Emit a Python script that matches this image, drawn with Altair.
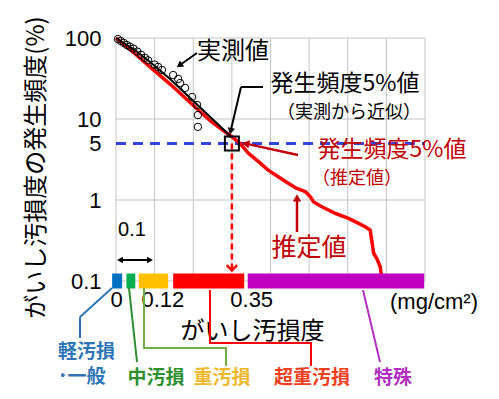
import altair as alt
import pandas as pd

# ---------------- data ----------------
# measured values (実測値) : open circles
meas_x = [0.005, 0.012, 0.020, 0.028, 0.036, 0.045, 0.055, 0.065, 0.075, 0.083,
          0.100, 0.109, 0.119, 0.148, 0.161, 0.166, 0.179, 0.197, 0.210, 0.212, 0.212]
meas_y = [97, 92, 87, 82, 78, 74, 68, 62, 57, 53,
          47, 44, 40.3, 34.9, 31.2, 27.8, 24.2, 18.7, 14.9, 11.2, 8.0]

# approximation from measured values (black line)
approx_x = [0.0, 0.049, 0.088, 0.140, 0.192, 0.244, 0.285, 0.298]
approx_y = [100, 71, 50.6, 31.2, 18.2, 10.6, 6.9, 6.0]

# estimated values (推定値, red line)
est_x = [0.0, 0.049, 0.088, 0.140, 0.192, 0.244, 0.2997, 0.321, 0.343, 0.369,
         0.394, 0.420, 0.446, 0.468, 0.490, 0.503, 0.511, 0.533, 0.567, 0.602,
         0.628, 0.645, 0.658, 0.662, 0.667, 0.675, 0.684, 0.689]
est_y = [100, 64, 44, 27, 16, 9.5, 6.04, 5.01, 3.77, 2.97,
         2.34, 1.94, 1.61, 1.39, 1.27, 1.10, 0.953, 0.826, 0.686, 0.594,
         0.515, 0.468, 0.427, 0.321, 0.220, 0.190, 0.150, 0.10]

grid_x = [0.0, 0.1, 0.2, 0.3, 0.4, 0.5, 0.6, 0.7, 0.8]
grid_y = [0.1, 1, 10, 100]
x_ticks = [0, 0.12, 0.35]
y_ticks = [0.1, 1, 5, 10, 100]

class_names = ["軽汚損・一般", "中汚損", "重汚損", "超重汚損", "特殊"]
class_lo = [-0.010, 0.027, 0.059, 0.148, 0.341]
class_hi = [0.016, 0.050, 0.135, 0.332, 0.798]
class_colors = ["#0070C0", "#00B050", "#FFC000", "#FF0000", "#C000C0"]
class_level = 0.1

freq_level = 5        # 発生頻度5%
value_at_5 = 0.30     # 汚損度 at 5 %
arrow_end = 0.135

# ---------------- layout ----------------
JP = "Noto Sans CJK JP"
LAT = "Liberation Sans"
W, H = 309, 243
OX, OY = 116, 38      # page position of the plot origin
ONE = pd.DataFrame({"a": [0]})

xs = alt.Scale(domain=[0, 0.8], nice=False, zero=False)
ys = alt.Scale(type="log", domain=[0.1, 100], nice=False)
DARKRED = "#C00000"


def X(f):
    return alt.X(f, type="quantitative", scale=xs)


def Y(f):
    return alt.Y(f, type="quantitative", scale=ys)


def txt(s, x, y, size, color="black", font=JP, weight="normal", align="center"):
    return alt.Chart(ONE).mark_text(
        text=s, font=font, fontSize=size, color=color, fontWeight=weight,
        align=align, baseline="middle"
    ).encode(x=alt.value(x - OX), y=alt.value(y - OY))


def seg(x1, y1, x2, y2, color, w=1.5, dash=None):
    kw = dict(color=color, strokeWidth=w, strokeCap="butt")
    if dash:
        kw["strokeDash"] = dash
    return alt.Chart(ONE).mark_rule(**kw).encode(
        x=alt.value(x1 - OX), y=alt.value(y1 - OY),
        x2=alt.value(x2 - OX), y2=alt.value(y2 - OY))


def head(x, y, angle, color, size=55):
    return alt.Chart(ONE).mark_point(
        shape="triangle", filled=True, color=color, size=size, angle=angle, opacity=1
    ).encode(x=alt.value(x - OX), y=alt.value(y - OY))


x_axis = alt.Axis(
    values=x_ticks, labelExpr="'' + datum.value", grid=False, ticks=False, domain=False,
    labelFont=LAT, labelFontSize=22, labelColor="black", labelPadding=8,
    labelFlush=False, labelOverlap=False,
    title="がいし汚損度", titleFont=JP, titleFontSize=24, titleFontWeight="normal",
    titleColor="black", titleX=136, titleY=50, titleAlign="center", titleBaseline="middle")

y_axis = alt.Axis(
    values=y_ticks, labelExpr="'' + datum.value", grid=False, ticks=False, domain=False,
    labelFont=LAT, labelFontSize=22, labelColor="black", labelPadding=15,
    labelFlush=False, labelOverlap=False,
    title="がいし汚損度の発生頻度(%)", titleFont=JP, titleFontSize=24,
    titleFontWeight="normal", titleColor="black", titleX=-80, titleY=129,
    titleAngle=270, titleAlign="center", titleBaseline="middle")

# grid + axes
grid_v = alt.Chart(pd.DataFrame({"gx": grid_x})).mark_rule(color="#C4C4C4", strokeWidth=1).encode(
    x=alt.X("gx:Q", scale=xs, axis=x_axis),
    y=alt.value(0), y2=alt.value(H))

grid_h = alt.Chart(pd.DataFrame({"gy": grid_y})).mark_rule(color="#C4C4C4", strokeWidth=1).encode(
    y=alt.Y("gy:Q", scale=ys, axis=y_axis),
    x=alt.value(0), x2=alt.value(W))

five_line = alt.Chart(pd.DataFrame({"y": [freq_level]})).mark_rule(
    color="#3344DD", strokeWidth=3, strokeDash=[10, 7]
).encode(y=Y("y"), x=alt.value(0), x2=alt.value(W))

v_dash = alt.Chart(pd.DataFrame({"x": [value_at_5], "y": [freq_level], "y2": [arrow_end]})).mark_rule(
    color="#FF0000", strokeWidth=2.5, strokeDash=[6, 4]
).encode(x=X("x"), y=Y("y"), y2=alt.Y2("y2"))

v_head = alt.Chart(pd.DataFrame({"x": [value_at_5], "y": [arrow_end]})).mark_point(
    shape="M-1,-1L0,0L1,-1", filled=False, color="#FF0000", strokeWidth=2.5, size=110, opacity=1
).encode(x=X("x"), y=Y("y"))

est = alt.Chart(pd.DataFrame({"x": est_x, "y": est_y, "i": range(len(est_x))})).mark_line(
    color="#FF0000", strokeWidth=3.5, strokeJoin="round"
).encode(x=X("x"), y=Y("y"), order="i:Q")

approx = alt.Chart(pd.DataFrame({"x": approx_x, "y": approx_y, "i": range(len(approx_x))})).mark_line(
    color="black", strokeWidth=2
).encode(x=X("x"), y=Y("y"), order="i:Q")

meas = alt.Chart(pd.DataFrame({"x": meas_x, "y": meas_y})).mark_point(
    shape="circle", filled=False, color="black", size=55, strokeWidth=1, opacity=1
).encode(x=X("x"), y=Y("y"))

box = alt.Chart(pd.DataFrame({"x": [value_at_5], "y": [freq_level]})).mark_point(
    shape="square", filled=False, color="black", size=196, strokeWidth=2, opacity=1
).encode(x=X("x"), y=Y("y"))

bars = alt.Chart(pd.DataFrame({"name": class_names, "lo": class_lo, "hi": class_hi,
                               "yv": [class_level] * len(class_names)})).mark_rule(
    strokeWidth=15, strokeCap="butt"
).encode(x=X("lo"), x2=alt.X2("hi"), y=Y("yv"),
         color=alt.Color("name:N", scale=alt.Scale(domain=class_names, range=class_colors), legend=None))

layers = [grid_v, grid_h, five_line, v_dash, est, approx, meas, box, bars, v_head]

# annotations inside the plot
layers += [
    txt("実測値", 233, 52, 24),
    seg(197, 53, 180.3, 64.7, "black", 2), head(180.3, 64.7, 235, "black"),
    txt("発生頻度5%値", 345, 84, 23),
    txt("（実測から近似）", 349, 113, 18),
    seg(263, 87, 241, 87, "black", 2), seg(241, 87, 230.9, 130.1, "black", 2),
    head(230.9, 130.1, 193, "black"),
    txt("発生頻度5%値", 392, 150, 23, DARKRED),
    txt("（推定値）", 357, 179, 18, DARKRED),
    seg(298, 155, 246.9, 143.9, DARKRED, 2.5), head(246.9, 143.9, 282, DARKRED, 70),
    txt("推定値", 309, 248, 25, DARKRED),
    seg(297, 232, 297, 199, DARKRED, 2.5), head(297, 199, 0, DARKRED, 70),
    txt("0.1", 132, 230, 20, font=LAT),
    seg(121, 260, 149, 260, "black", 2), head(121, 260, 270, "black", 45), head(149, 260, 90, "black", 45),
    txt("(mg/cm²)", 434, 302, 22, font=LAT),
]

# leader lines and class labels below the axis
layers += [
    seg(112, 288, 80, 317, "#2E75B6", 2), seg(80, 317, 80, 338, "#2E75B6", 2),
    seg(129, 288, 137, 362, "#2E8B2E", 2),
    seg(144, 288, 144, 348, "#70AD47", 2), seg(143, 348, 227, 348, "#70AD47", 2),
    seg(226, 347, 226, 366, "#70AD47", 2),
    seg(210, 290, 210, 344, "#FF0000", 2), seg(209, 343, 312, 343, "#FF0000", 2),
    seg(311, 342, 311, 366, "#FF0000", 2),
    seg(363, 290, 380, 362, "#B030C0", 2),
    txt("軽汚損", 58, 352, 19, "#2E75B6", weight="bold", align="left"),
    txt("･一般", 58, 377, 19, "#2E75B6", weight="bold", align="left"),
    txt("中汚損", 156, 378, 19, "#2F8F2F", weight="bold"),
    txt("重汚損", 222, 378, 19, "#EDB92A", weight="bold"),
    txt("超重汚損", 312, 378, 19, "#F0401C", weight="bold"),
    txt("特殊", 393, 378, 19, "#B030C0", weight="bold"),
]

chart = alt.layer(*layers).properties(
    width=W, height=H,
    autosize=alt.AutoSizeParams(type="none"),
    padding={"left": OX - 8, "top": OY - 8, "right": 66, "bottom": 110},
    background="white",
).configure_view(stroke=None)

chart.save("out.html", embed_options={"renderer": "svg", "actions": False})
